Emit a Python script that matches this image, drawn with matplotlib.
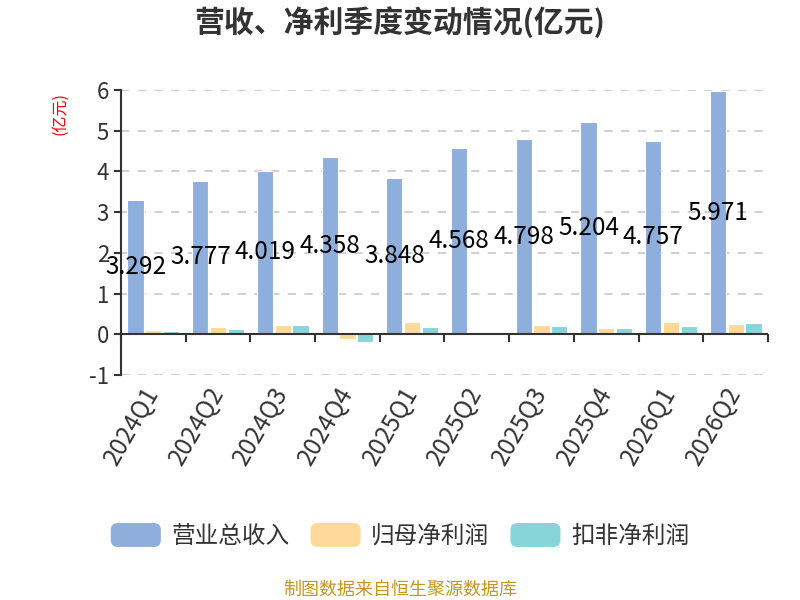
import numpy as np
import matplotlib
matplotlib.use("Agg")
import matplotlib.pyplot as plt
from matplotlib.patches import FancyBboxPatch, Rectangle
from matplotlib.legend_handler import HandlerPatch

plt.rcParams['font.family'] = ['Noto Sans CJK SC', 'DejaVu Sans']
plt.rcParams['axes.unicode_minus'] = False

quarters = ["2024Q1", "2024Q2", "2024Q3", "2024Q4", "2025Q1",
            "2025Q2", "2025Q3", "2025Q4", "2026Q1", "2026Q2"]
revenue = [3.292, 3.777, 4.019, 4.358, 3.848, 4.568, 4.798, 5.204, 4.757, 5.971]
net_parent = [0.10, 0.17, 0.23, -0.12, 0.29, 0.05, 0.22, 0.16, 0.31, 0.26]
net_deducted = [0.07, 0.14, 0.22, -0.20, 0.17, 0.01, 0.20, 0.15, 0.21, 0.27]
series_names = ["营业总收入", "归母净利润", "扣非净利润"]
colors = ["#8EAEDC", "#FFD99A", "#88D5D9"]


class RoundHandler(HandlerPatch):
    def create_artists(self, legend, orig_handle, xdescent, ydescent,
                       width, height, fontsize, trans):
        p = FancyBboxPatch((-xdescent, -ydescent), width, height,
                           boxstyle="round,pad=0,rounding_size=5",
                           facecolor=orig_handle.get_facecolor(),
                           edgecolor="none", transform=trans)
        return [p]


fig = plt.figure(figsize=(8, 6), dpi=100)
ax = fig.add_axes([0.1512, 0.375, 0.8088, 0.475])

x = np.arange(len(quarters))
w = 0.25
for i, (vals, off) in enumerate(zip([revenue, net_parent, net_deducted], [-0.275, 0.0, 0.275])):
    ax.bar(x + off, vals, w, color=colors[i], edgecolor="white",
           linewidth=0.8, zorder=3)

for xi, v in zip(x, revenue):
    ax.text(xi - 0.275, v / 2, f"{v:.3f}", ha="center", va="center",
            fontsize=17.5, color="black", zorder=5)

ax.set_xlim(-0.5, len(quarters) - 0.5)
ax.set_ylim(-1, 6)
ax.set_yticks(range(-1, 7))
ax.tick_params(axis="y", labelsize=16, colors="#333333", length=5, width=1.5)
for s in ["top", "right", "bottom"]:
    ax.spines[s].set_visible(False)
ax.spines["left"].set_color("#333333")
ax.spines["left"].set_linewidth(1.5)
for yv in [-1, 1, 2, 3, 4, 5, 6]:
    ax.axhline(yv, color="#c8c8c8", lw=1.2, ls=(0, (5, 5)), zorder=1)
ax.axhline(0, color="#333333", lw=1.5, zorder=4)

ax.set_xticks(x)
ax.set_xticklabels(quarters, rotation=60, ha="right", va="center",
                   rotation_mode="anchor", fontsize=17.5, color="#333333")
ax.tick_params(axis="x", length=0, pad=10)

sec = ax.secondary_xaxis(1 / 7)
sec.set_xticks(np.arange(-0.5, len(quarters), 1.0))
sec.set_xticklabels([])
sec.spines["bottom"].set_visible(False)
sec.tick_params(axis="x", direction="out", length=6, width=1.5, colors="#333333")

fig.text(0.075, 0.847, "(亿元)", rotation=90, color="red", fontsize=11.5,
         ha="center", va="top")

fig.suptitle("营收、净利季度变动情况(亿元)", x=0.5, y=0.99, fontsize=21.5,
             fontweight="bold", color="#333333")

proxies = [Rectangle((0, 0), 1, 1, facecolor=c) for c in colors]
fig.legend(handles=proxies, labels=series_names, loc="center",
           bbox_to_anchor=(0.5, 0.1075), ncol=3, frameon=False, fontsize=17,
           handlelength=2.12, handleheight=1.18, handletextpad=0.45,
           columnspacing=0.89, labelcolor="#333333",
           handler_map={Rectangle: RoundHandler()})

fig.text(0.5, 0.0167, "制图数据来自恒生聚源数据库", ha="center", va="center",
         fontsize=13, color="#C8961E")

fig.savefig("out.png", dpi=100)
